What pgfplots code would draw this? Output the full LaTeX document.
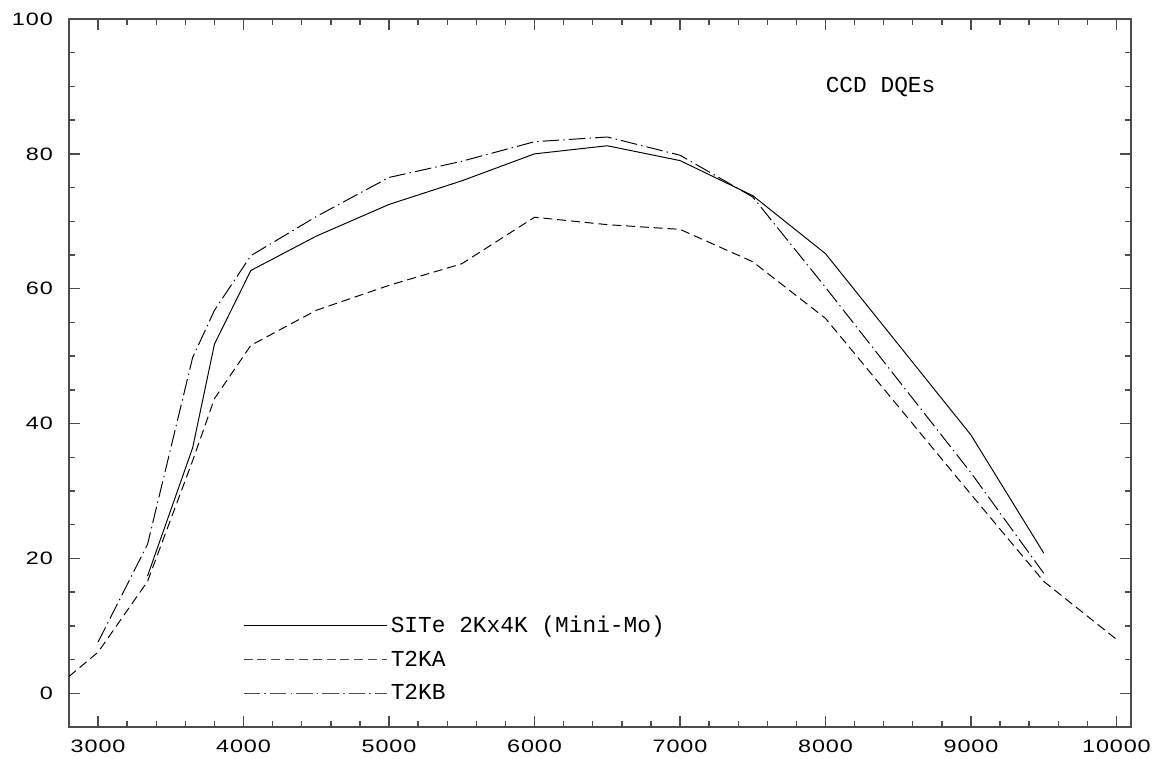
\documentclass[border=0pt]{standalone}
\usepackage{fontspec}
\setmainfont{Liberation Mono}
\newfontfamily\tickfont{Liberation Sans}[FakeStretch=1.3, LetterSpace=5]
\usepackage{pgfplots}
\pgfplotsset{compat=1.18}

\begin{document}
\begin{tikzpicture}
\begin{axis}[
    scale only axis,
    width=10.62in, height=7.08in,
    at={(0,0)}, anchor=south west,
    xmin=2800, xmax=10100,
    ymin=-5, ymax=100,
    xtick={3000,4000,...,10000},
    ytick={0,20,...,100},
    minor x tick num=4,
    minor y tick num=3,
    tick align=inside,
    major tick length=0.11in,
    minor tick length=0.06in,
    scaled ticks=false,
    /pgf/number format/set thousands separator={},
    /pgf/number format/assume math mode=true,
    tick label style={font=\tickfont\fontsize{13}{15}\selectfont, inner sep=0pt},
    x tick label style={yshift=-9.4pt},
    y tick label style={xshift=-11.5pt},
    axis line style={black!70, line width=1.1pt},
    every tick/.style={black!70, line width=1pt},
    no markers,
]
% SITe 2Kx4K (Mini-Mo)
\addplot[black, line width=0.7pt, solid] coordinates {
    (3340,17.4) (3650,36.4) (3800,51.8) (4050,62.7) (4500,67.8) (5000,72.5)
    (5500,76.0) (6000,80.0) (6500,81.2) (7000,79.0) (7500,73.8) (8000,65.2)
    (9000,38.3) (9500,20.8)
};
% T2KA
\addplot[black, line width=0.7pt, dash pattern=on 6.5pt off 3.5pt] coordinates {
    (2800,2.5) (3000,6.1) (3340,16.6) (3650,34.5) (3800,43.7) (4050,51.6)
    (4500,56.8) (5000,60.5) (5500,63.7) (6000,70.6) (6500,69.5) (7000,68.8)
    (7500,64.0) (8000,55.6) (9000,29.5) (9500,16.6) (10000,8.0)
};
% T2KB
\addplot[black, line width=0.7pt, dash pattern=on 12pt off 3pt on 1pt off 3pt] coordinates {
    (3000,7.6) (3340,22.1) (3650,49.8) (3800,56.8) (4050,64.9) (4500,70.7)
    (5000,76.5) (5500,78.9) (6000,81.8) (6500,82.5) (7000,79.8) (7500,73.6)
    (8000,60.2) (9000,32.7) (9500,17.8)
};

% key, drawn in data units as in the original
\addplot[black, line width=0.7pt, solid] coordinates {(4000,10) (4985,10)};
\addplot[black!70, line width=0.7pt, dash pattern=on 6.5pt off 3.5pt] coordinates {(4000,5) (4985,5)};
\addplot[black!70, line width=0.7pt, dash pattern=on 12pt off 3pt on 1pt off 3pt] coordinates {(4000,0) (4985,0)};

\node[anchor=base west, inner sep=0pt, yshift=-4.7pt, font=\fontsize{16.5}{18}\selectfont]
    at (axis cs:5010,10) {SITe 2Kx4K (Mini-Mo)};
\node[anchor=base west, inner sep=0pt, yshift=-4.7pt, font=\fontsize{16.5}{18}\selectfont]
    at (axis cs:5010,5) {T2KA};
\node[anchor=base west, inner sep=0pt, yshift=-4.7pt, font=\fontsize{16.5}{18}\selectfont]
    at (axis cs:5010,0) {T2KB};
\node[anchor=base west, inner sep=0pt, yshift=-4.7pt, font=\fontsize{16.5}{18}\selectfont]
    at (axis cs:8000,90) {CCD DQEs};
\end{axis}
\pgfresetboundingbox
\path[use as bounding box] (-0.69in,-0.32in) rectangle (11.04in,7.27in);
\end{tikzpicture}
\end{document}
